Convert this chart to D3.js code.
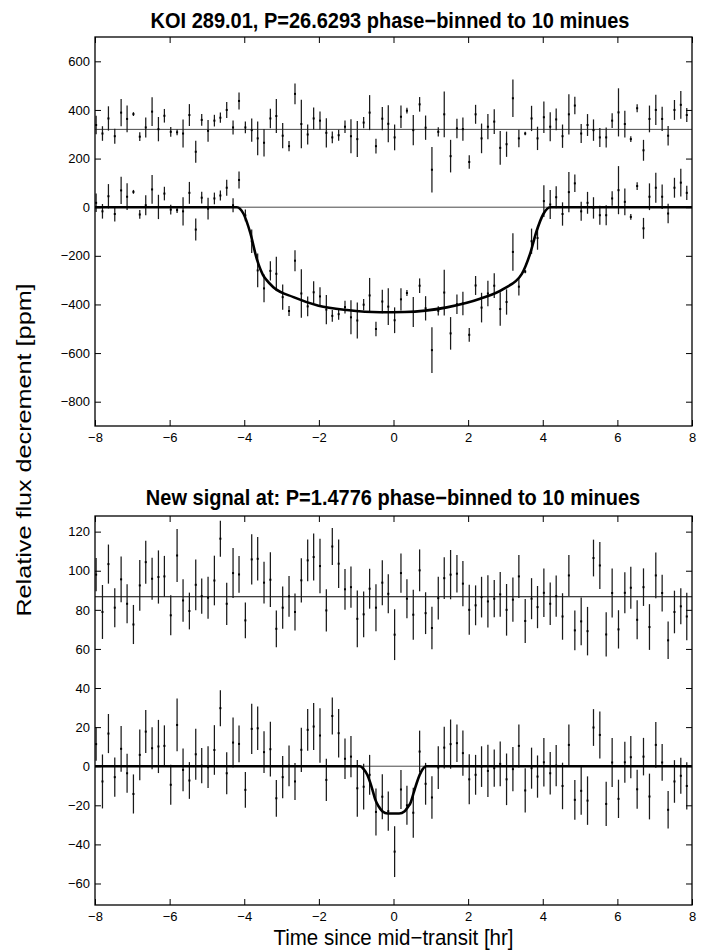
<!DOCTYPE html>
<html>
<head>
<meta charset="utf-8">
<script src="https://cdn.jsdelivr.net/npm/d3@7"></script>
<style>
body { margin: 0; background: #fff; }
svg text { font-family: "Liberation Sans", Arial, Helvetica, sans-serif; fill: #000; }
</style>
</head>
<body>
<div id="chart"></div>
<script>
// bin centres, 10 minute bins [hr]
const time = [
  -7.97, -7.80, -7.64, -7.47, -7.30, -7.14, -6.97, -6.80, -6.64, -6.47,
  -6.30, -6.14, -5.97, -5.80, -5.64, -5.47, -5.30, -5.14, -4.97, -4.80,
  -4.64, -4.47, -4.30, -4.14, -3.97, -3.80, -3.64, -3.47, -3.30, -3.14,
  -2.97, -2.80, -2.64, -2.47, -2.30, -2.14, -1.97, -1.80, -1.64, -1.47,
  -1.30, -1.14, -0.97, -0.80, -0.64, -0.47, -0.30, -0.14, 0.03, 0.20,
  0.36, 0.53, 0.70, 0.86, 1.03, 1.20, 1.36, 1.53, 1.70, 1.86,
  2.03, 2.20, 2.36, 2.53, 2.70, 2.86, 3.03, 3.20, 3.36, 3.53,
  3.70, 3.86, 4.03, 4.20, 4.36, 4.53, 4.70, 4.86, 5.03, 5.20,
  5.36, 5.53, 5.70, 5.86, 6.03, 6.20, 6.36, 6.53, 6.70, 6.86,
  7.03, 7.20, 7.36, 7.53, 7.70, 7.86
];

// KOI 289.01 panel [ppm]
const koiFlux = [
  18, -17, 45, -28, 69, 43, 63, -30, 8, 73,
  1, 56, -10, -12, -17, 59, -92, 39, -6, 36,
  48, 80, 8, 112, -34, -140, -260, -334, -262, -274,
  -370, -427, -220, -355, -408, -350, -367, -421, -447, -440,
  -411, -453, -466, -401, -363, -501, -388, -409, -465, -379,
  -353, -431, -323, -416, -588, -426, -351, -519, -399, -396,
  -525, -322, -413, -355, -323, -419, -390, -184, -327, -265,
  -140, -127, 25, 11, 41, -28, 62, 98, -17, 18,
  -3, -33, -33, 36, 70, 22, -40, 87, -87, 43,
  80, 43, -26, 80, 101, 59
];
const koiResid = [
  338, 303, 365, 292, 389, 363, 383, 290, 328, 393,
  321, 376, 310, 308, 303, 379, 228, 359, 314, 356,
  368, 400, 328, 437, 328, 317, 283, 265, 365, 375,
  294, 251, 466, 342, 299, 365, 356, 306, 287, 296,
  331, 292, 280, 348, 389, 251, 364, 343, 287, 372,
  397, 317, 423, 327, 154, 310, 382, 210, 324, 321,
  186, 382, 283, 331, 352, 244, 259, 448, 283, 303,
  365, 283, 370, 331, 361, 292, 382, 418, 303, 338,
  317, 287, 287, 356, 390, 342, 280, 407, 234, 363,
  400, 363, 294, 400, 421, 379
];
const koiErr = [
  38, 30, 50, 31, 56, 55, 8, 18, 41, 59,
  50, 28, 20, 12, 58, 45, 45, 24, 45, 24,
  21, 33, 29, 35, 24, 48, 69, 57, 40, 70,
  52, 21, 43, 100, 41, 45, 38, 60, 24, 23,
  26, 70, 74, 23, 72, 30, 48, 76, 53, 46,
  12, 62, 30, 50, 94, 19, 94, 67, 40, 48,
  28, 39, 61, 52, 51, 69, 52, 77, 36, 7,
  52, 48, 65, 60, 45, 48, 83, 36, 39, 45,
  44, 39, 41, 30, 99, 55, 12, 16, 43, 55,
  62, 50, 40, 41, 57, 29
];
const koiModelT = [-8, -4.2, -4.02, -3.84, -3.66, -3.5, -3.4, -3.22, -2.68, -2.01, -1.25, -0.36, 0.3, 1.43, 2.32, 2.95, 3.44, 3.66, 3.84, 4.02, 4.2, 8];
const koiModelY = [0, 0, -27, -105, -215, -278, -300, -329, -370, -405, -423, -432, -431, -412, -377, -336, -274, -192, -96, -27, 0, 0];
const koiOffset = 320;

// new signal panel [ppm]
const newFlux = [
  11.3, -7.8, 16.7, -5.6, 8.9, -3.6, -14.2, 5.8, 17.7, 9.2,
  10.1, 10.4, -9.5, 21.1, -1.9, -7.3, 6.1, 0.3, -0.5, 8.3,
  29.7, -3.6, 12.1, 11.4, -12.1, 19.1, 19.4, 7.2, 8.7, -16.4,
  -5.6, 0.2, -7.8, 8.4, 18.6, 20.3, 15.7, -7, 25.7, 16.9,
  3.8, 4.9, -11.3, -10.5, -4.4, -23.4, -15.6, -23, -43.7, -11.9,
  -20, -23.8, 7.5, -9, -16, -0.7, 9.5, 11.3, 11.8, 6.7,
  -6.7, -4.4, -0.2, -2.4, -1, 1.2, -6.7, -1.5, 10.4, -12.4,
  -1, -5.3, 2, -3.6, 0.3, -10.1, 10.9, -17.2, -12.6, -17.6,
  19.8, 16, -19.3, 1.9, -16.7, 2, 4.6, -11.8, 4.9, -15.5,
  10.9, 1.9, -22.3, -7.8, -4.9, -10.1
];
const newResid = [
  98, 78.9, 103.4, 81.1, 95.6, 83.1, 72.5, 92.5, 104.4, 95.9,
  96.8, 97.1, 77.2, 107.8, 84.8, 79.4, 92.8, 87, 86.2, 95,
  116.4, 83.1, 98.8, 98.1, 74.6, 105.8, 106.1, 93.9, 95.4, 70.3,
  81.1, 86.9, 78.9, 95.1, 105.3, 107, 102.4, 79.7, 112.4, 103.6,
  90.5, 91.6, 75.4, 77.7, 90.8, 81.1, 93.9, 88.2, 67.3, 98.8,
  85.7, 77.5, 100.2, 78.3, 70.7, 86, 96.2, 98, 98.5, 93.4,
  80, 82.3, 86.5, 84.3, 85.7, 87.9, 80, 85.2, 97.1, 74.3,
  85.7, 81.4, 88.7, 83.1, 87, 76.6, 97.6, 69.5, 74.1, 69.1,
  106.5, 102.7, 67.4, 88.6, 70, 88.7, 91.3, 74.9, 91.6, 71.2,
  97.6, 88.6, 64.4, 78.9, 81.8, 76.6
];
const newErr = [
  8.5, 13.8, 10, 10, 11.7, 10, 10, 13, 11, 10.7,
  13.6, 10.5, 10.2, 13.5, 10.9, 9.4, 13, 9, 10.7, 12.7,
  9.2, 10.8, 12.8, 9.4, 9.2, 12.9, 11.1, 10.7, 14, 9.4,
  10.8, 10.4, 9.5, 11.3, 10.7, 12, 13.9, 10.8, 9.5, 12.4,
  10.4, 10.6, 14.5, 11.7, 10.2, 12, 11.5, 10, 13, 10,
  10, 12.8, 10.7, 10.7, 10.9, 10.9, 10.7, 12.6, 9.6, 11.6,
  12.8, 10.2, 10.4, 13.4, 9.5, 11.5, 13.2, 11.3, 11, 11.3,
  10.5, 10.8, 12.4, 10.9, 10.5, 11.9, 10.5, 10.2, 12.2, 12.4,
  9.4, 12, 11.3, 12.5, 9.8, 10.5, 10.8, 10, 9.6, 11.7,
  11.7, 9.4, 9.6, 10.9, 9.2, 12.1
];
const newModelT = [-8, -0.9, -0.8, -0.7, -0.63, -0.55, -0.49, -0.4, -0.3, -0.15, 0.15, 0.3, 0.4, 0.45, 0.55, 0.62, 0.7, 0.78, 0.88, 8];
const newModelY = [0, 0, -1.5, -4.5, -8, -13, -17, -20.5, -23, -24.2, -24.2, -23, -20.5, -19, -13, -8.7, -4.5, -1.5, 0, 0];
const newOffset = 86.7;

const xTicks = [-8, -6, -4, -2, 0, 2, 4, 6, 8];
const koiYTicks = [-800, -600, -400, -200, 0, 200, 400, 600];
const newYTicks = [-60, -40, -20, 0, 20, 40, 60, 80, 100, 120];

const W = 712, H = 950;
const left = 95, right = 692;

const svg = d3.select("#chart").append("svg")
    .attr("width", W)
    .attr("height", H);

function panel(cfg) {
    const x = d3.scaleLinear().domain([-8, 8]).range([left, right]);
    const y = d3.scaleLinear().domain(cfg.yDomain).range([cfg.bottom, cfg.top]);
    const g = svg.append("g");

    // reference lines at zero and at the residual offset
    g.append("line")
        .attr("x1", left).attr("x2", right)
        .attr("y1", y(0)).attr("y2", y(0))
        .attr("stroke", "#333")
        .attr("stroke-width", 0.9);
    g.append("line")
        .attr("x1", left).attr("x2", right)
        .attr("y1", y(cfg.offset)).attr("y2", y(cfg.offset))
        .attr("stroke", cfg.offsetColor)
        .attr("stroke-width", cfg.offsetWidth);

    const pts = [];
    time.forEach((t, i) => {
        pts.push({t: t, v: cfg.flux[i], e: cfg.err[i]});
        pts.push({t: t, v: cfg.resid[i], e: cfg.err[i]});
    });

    g.selectAll("line.err")
        .data(pts)
        .enter().append("line")
        .attr("class", "err")
        .attr("x1", d => x(d.t)).attr("x2", d => x(d.t))
        .attr("y1", d => y(d.v - d.e)).attr("y2", d => y(d.v + d.e))
        .attr("stroke", "#1a1a1a")
        .attr("stroke-width", 1.25);

    g.selectAll("rect.pt")
        .data(pts)
        .enter().append("rect")
        .attr("class", "pt")
        .attr("x", d => x(d.t) - 1)
        .attr("y", d => y(d.v) - 1)
        .attr("width", 2).attr("height", 2)
        .attr("fill", "#000");

    const model = cfg.modelT.map((t, i) => [t, cfg.modelY[i]]);
    g.append("path")
        .datum(model)
        .attr("fill", "none")
        .attr("stroke", "#000")
        .attr("stroke-width", 2.6)
        .attr("d", d3.line().x(d => x(d[0])).y(d => y(d[1])).curve(d3.curveMonotoneX));

    // axes, ticks pointing inward on all four sides
    const xb = d3.axisBottom(x).tickValues(xTicks).tickSizeInner(-6).tickSizeOuter(0).tickPadding(7);
    const xt = d3.axisTop(x).tickValues(xTicks).tickSizeInner(-6).tickSizeOuter(0).tickFormat("");
    const yl = d3.axisLeft(y).tickValues(cfg.yTicks).tickSizeInner(-6).tickSizeOuter(0).tickPadding(5);
    const yr = d3.axisRight(y).tickValues(cfg.yTicks).tickSizeInner(-6).tickSizeOuter(0).tickFormat("");

    const axes = [
        g.append("g").attr("transform", `translate(0,${cfg.bottom})`).call(xb),
        g.append("g").attr("transform", `translate(0,${cfg.top})`).call(xt),
        g.append("g").attr("transform", `translate(${left},0)`).call(yl),
        g.append("g").attr("transform", `translate(${right},0)`).call(yr)
    ];
    axes.forEach(a => {
        a.select(".domain").remove();
        a.selectAll("line").attr("stroke", "#000").attr("stroke-width", 1);
        a.selectAll("text").style("font-size", "13px").attr("fill", "#000");
    });

    g.append("rect")
        .attr("x", left).attr("y", cfg.top)
        .attr("width", right - left).attr("height", cfg.bottom - cfg.top)
        .attr("fill", "none")
        .attr("stroke", "#000")
        .attr("stroke-width", 1.3);

    g.append("text")
        .attr("transform", `translate(${cfg.titleX},${cfg.titleY}) scale(1,1.06)`)
        .attr("text-anchor", "middle")
        .style("font-size", "20px")
        .style("font-weight", "bold")
        .text(cfg.title);
}

panel({
    top: 37, bottom: 426, yDomain: [-900, 700], yTicks: koiYTicks,
    flux: koiFlux, resid: koiResid, err: koiErr,
    modelT: koiModelT, modelY: koiModelY,
    offset: koiOffset, offsetColor: "#333", offsetWidth: 0.9,
    title: "KOI 289.01, P=26.6293 phase\u2212binned to 10 minues", titleX: 390, titleY: 28
});

panel({
    top: 516, bottom: 905, yDomain: [-71, 128], yTicks: newYTicks,
    flux: newFlux, resid: newResid, err: newErr,
    modelT: newModelT, modelY: newModelY,
    offset: newOffset, offsetColor: "#000", offsetWidth: 1.1,
    title: "New signal at: P=1.4776 phase\u2212binned to 10 minues", titleX: 393, titleY: 505
});

svg.append("text")
    .attr("transform", "translate(393.5,945) scale(1,1.1)")
    .attr("text-anchor", "middle")
    .style("font-size", "20.5px")
    .text("Time since mid\u2212transit [hr]");

svg.append("text")
    .attr("transform", "translate(31,450) rotate(-90) scale(1.2,1)")
    .attr("text-anchor", "middle")
    .style("font-size", "21px")
    .text("Relative flux decrement [ppm]");
</script>
</body>
</html>
